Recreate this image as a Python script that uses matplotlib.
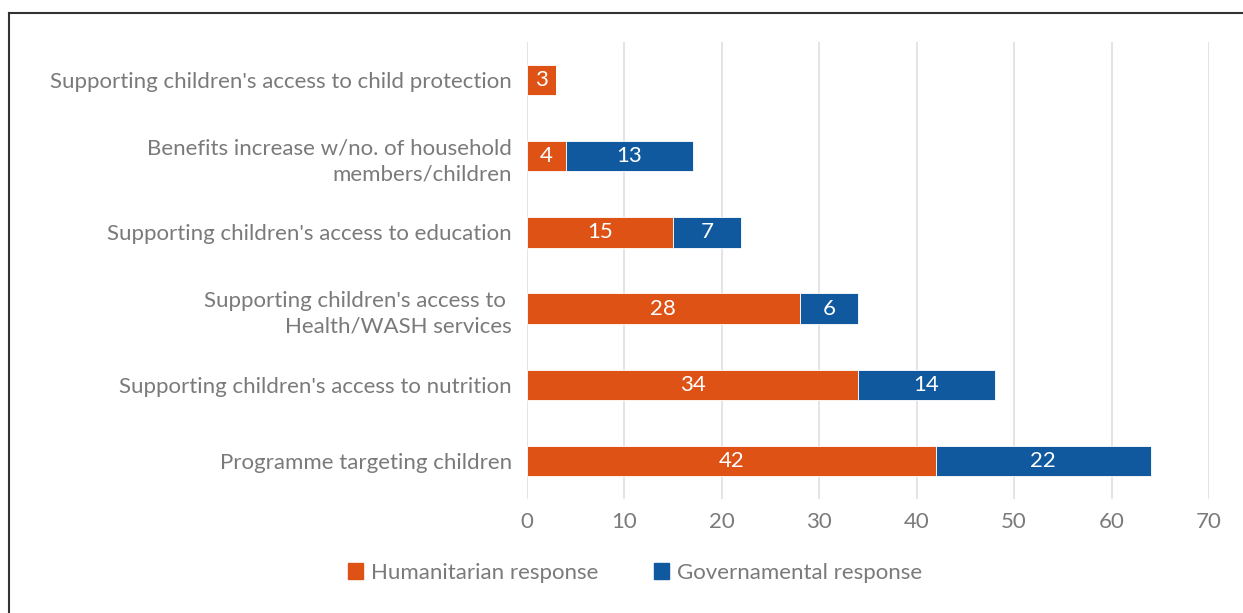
import matplotlib.pyplot as plt
import numpy as np
from matplotlib.patches import Patch
from matplotlib.lines import Line2D

# datos (de abajo hacia arriba)
categorias = ["Programme targeting children",
              "Supporting children's access to nutrition",
              "Supporting children's access to \nHealth/WASH services",
              "Supporting children's access to education",
              "Benefits increase w/no. of household\nmembers/children",
              "Supporting children's access to child protection"]
humanitaria = [42, 34, 28, 15, 4, 3]
gubernamental = [22, 14, 6, 7, 13, 0]
series = ["Humanitarian response", "Governamental response"]
ticks_x = [0, 10, 20, 30, 40, 50, 60, 70]

naranja = "#DE5215"
azul = "#10599F"
gris = "#7a7a7a"

plt.rcParams['font.family'] = ['Lato', 'DejaVu Sans']

fig = plt.figure(figsize=(12.43, 6.13), dpi=100)
ax = fig.add_axes([527/1243, 1-499/613, (1209-527)/1243, (499-42)/613])

y = np.arange(len(categorias))
b1 = ax.barh(y, humanitaria, height=0.4, color=naranja, edgecolor="white", linewidth=0.6)
b2 = ax.barh(y, gubernamental, height=0.4, left=humanitaria, color=azul, edgecolor="white", linewidth=0.6)

# etiquetas dentro de las barras
for barras in (b1, b2):
    for b in barras:
        w = b.get_width()
        if w > 0:
            ax.text(b.get_x() + w/2, b.get_y() + b.get_height()/2, str(int(w)),
                    ha="center", va="center", color="white", fontsize=16)

ax.set_xlim(0, 70)
ax.set_ylim(-0.5, len(categorias) - 0.5)
ax.set_xticks(ticks_x)
ax.set_yticks(y)
ax.set_yticklabels(categorias, fontsize=16, color=gris, linespacing=1.4)
ax.tick_params(axis="x", labelsize=16, labelcolor=gris, length=0, pad=9)
ax.tick_params(axis="y", length=0, pad=11)
for s in ax.spines.values():
    s.set_visible(False)
ax.grid(axis="x", color="#e2e2e2", linewidth=1.3)
ax.set_axisbelow(True)

handles = [Patch(color=naranja), Patch(color=azul)]
fig.legend(handles, series, loc="center", bbox_to_anchor=(635/1243, 1-573/613), ncol=2,
           frameon=False, fontsize=16, labelcolor=gris, handlelength=0.7, handleheight=0.7,
           handletextpad=0.35, columnspacing=2.5)

# marco exterior (solo se ven el borde superior e izquierdo)
fig.add_artist(Line2D([9/1243, 1], [1-13/613, 1-13/613], color="#333333", linewidth=1.5))
fig.add_artist(Line2D([9/1243, 9/1243], [0, 1-13/613], color="#333333", linewidth=1.5))

fig.savefig("out.png", dpi=100)
